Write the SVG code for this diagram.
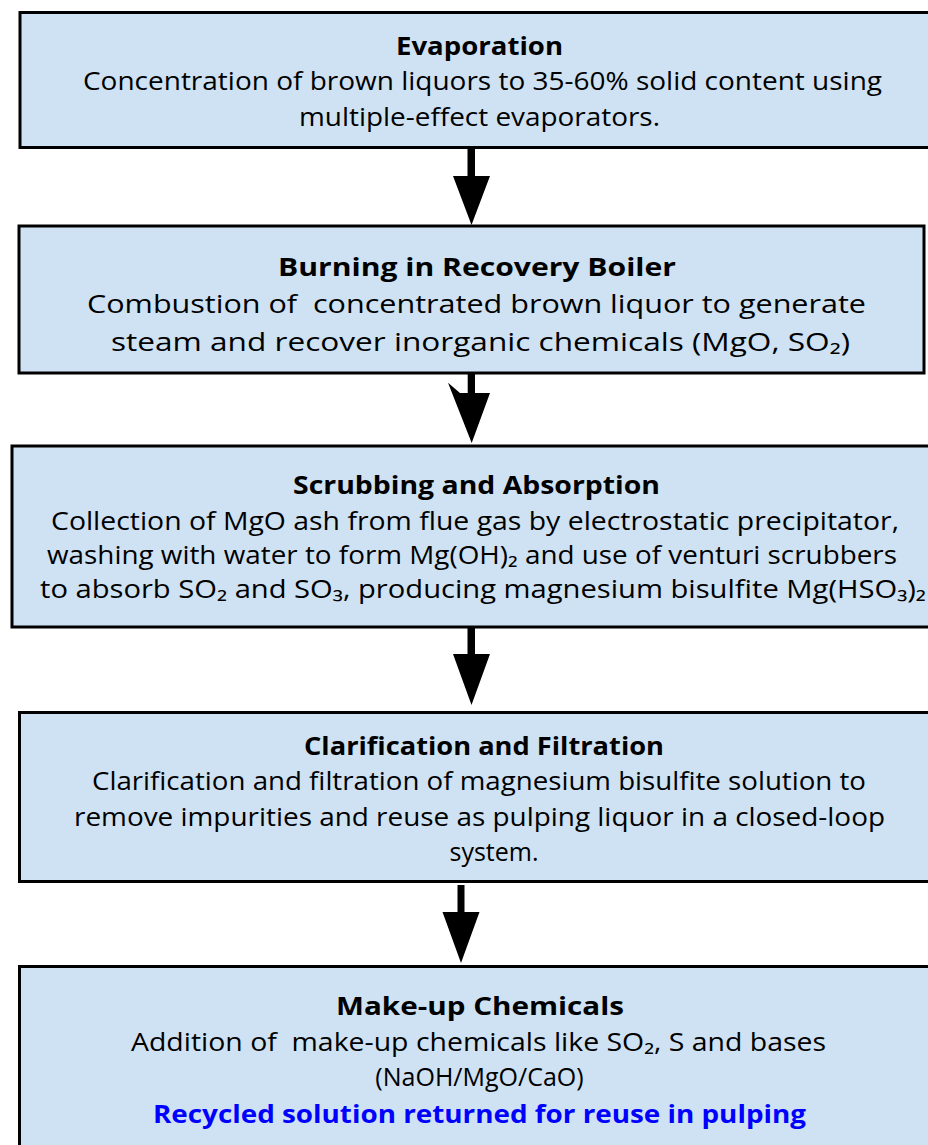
<svg xmlns="http://www.w3.org/2000/svg" width="928" height="1145" viewBox="0 0 928 1145">
  <style>
    .box { fill: #cfe2f3; stroke: #000; stroke-width: 3; }
    .t { font-family: "Open Sans", Lato, "Liberation Sans", sans-serif; font-size: 25px; fill: #000; text-anchor: middle; }
    .h { font-weight: bold; }
    .blue { fill: #0000ff; font-weight: bold; }
    .arrow { fill: #000; stroke: none; }
  </style>

  <g id="evaporation">
    <rect class="box" x="20" y="12.5" width="930" height="135"/>
    <text class="t h" x="479.5" y="55" textLength="167" lengthAdjust="spacingAndGlyphs">Evaporation</text>
    <text class="t" x="482.5" y="90" textLength="799" lengthAdjust="spacingAndGlyphs">Concentration of brown liquors to 35-60% solid content using</text>
    <text class="t" x="479.5" y="126" textLength="361" lengthAdjust="spacingAndGlyphs">multiple-effect evaporators.</text>
  </g>

  <g id="recovery-boiler">
    <rect class="box" x="19" y="226" width="905" height="147"/>
    <text class="t h" x="477" y="276" textLength="398" lengthAdjust="spacingAndGlyphs">Burning in Recovery Boiler</text>
    <text class="t" x="476.5" y="313" xml:space="preserve" textLength="779" lengthAdjust="spacingAndGlyphs">Combustion of  concentrated brown liquor to generate</text>
    <text class="t" x="480.5" y="351" textLength="739" lengthAdjust="spacingAndGlyphs">steam and recover inorganic chemicals (MgO, SO₂)</text>
  </g>

  <g id="scrubbing">
    <rect class="box" x="12" y="446" width="930" height="181"/>
    <text class="t h" x="476.5" y="494" textLength="367" lengthAdjust="spacingAndGlyphs">Scrubbing and Absorption</text>
    <text class="t" x="475" y="530" textLength="848" lengthAdjust="spacingAndGlyphs">Collection of MgO ash from flue gas by electrostatic precipitator,</text>
    <text class="t" x="472" y="564" textLength="850" lengthAdjust="spacingAndGlyphs">washing with water to form Mg(OH)₂ and use of venturi scrubbers</text>
    <text class="t" x="483" y="598" textLength="886" lengthAdjust="spacingAndGlyphs">to absorb SO₂ and SO₃, producing magnesium bisulfite Mg(HSO₃)₂</text>
  </g>

  <g id="clarification">
    <rect class="box" x="19.5" y="712.5" width="930" height="169"/>
    <text class="t h" x="484" y="755" textLength="360" lengthAdjust="spacingAndGlyphs">Clarification and Filtration</text>
    <text class="t" x="479" y="790" textLength="774" lengthAdjust="spacingAndGlyphs">Clarification and filtration of magnesium bisulfite solution to</text>
    <text class="t" x="479.5" y="826" textLength="811" lengthAdjust="spacingAndGlyphs">remove impurities and reuse as pulping liquor in a closed-loop</text>
    <text class="t" x="494" y="861">system.</text>
  </g>

  <g id="makeup">
    <rect class="box" x="19.5" y="966.5" width="930" height="200"/>
    <text class="t h" x="480" y="1015" textLength="288" lengthAdjust="spacingAndGlyphs">Make-up Chemicals</text>
    <text class="t" x="478.5" y="1051" xml:space="preserve" textLength="695" lengthAdjust="spacingAndGlyphs">Addition of  make-up chemicals like SO₂, S and bases</text>
    <text class="t" x="479.5" y="1086">(NaOH/MgO/CaO)</text>
    <text class="t blue" x="479.5" y="1123" textLength="653" lengthAdjust="spacingAndGlyphs">Recycled solution returned for reuse in pulping</text>
  </g>

  <g id="connectors">
    <path class="arrow" d="M467.5,148 H475 V176 H490 L471.5,225 L453,176 H467.5 Z"/>
    <path class="arrow" d="M467.7,373 H475 V393 H490 L471.7,443 L448,382.7 L460,393 H467.7 Z"/>
    <path class="arrow" d="M467.5,627 H475 V654 H490 L471.5,705 L453,654 H467.5 Z"/>
    <path class="arrow" d="M457.5,885 H464.5 V912 H479.5 L461,963 L442.5,912 H457.5 Z"/>
  </g>
</svg>
